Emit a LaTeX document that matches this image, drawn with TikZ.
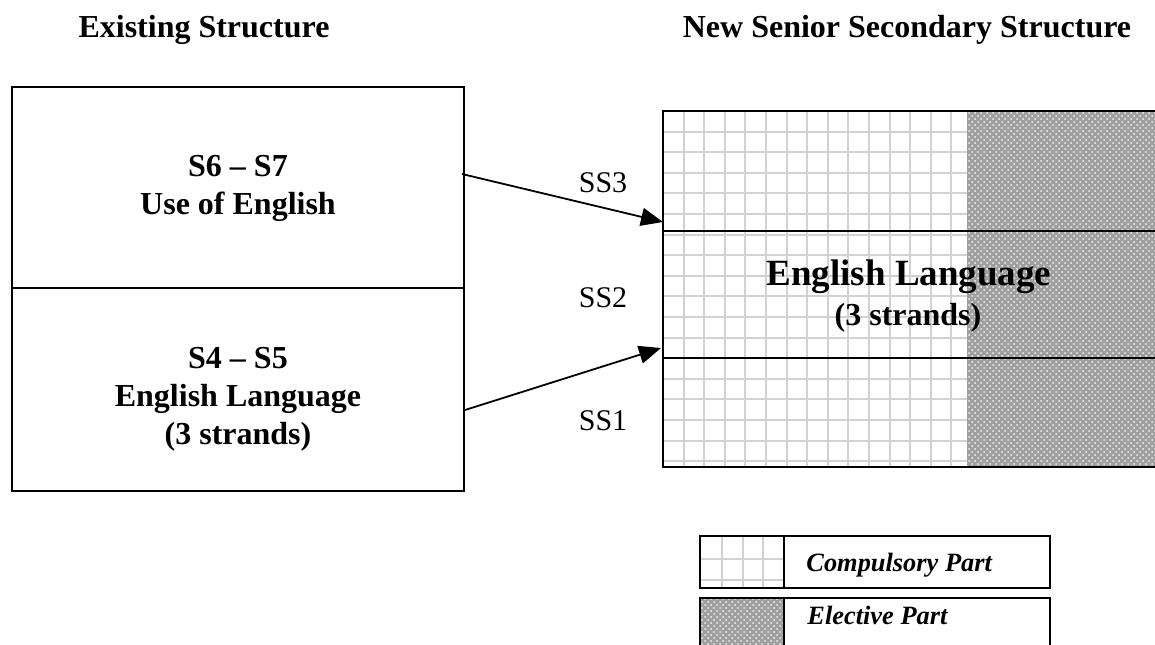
\documentclass[tikz,border=0pt]{standalone}
\usepackage{fontspec}
\setmainfont{Liberation Serif}
\usetikzlibrary{arrows.meta,patterns}

\tikzset{
  frame/.style={draw=black, line width=1pt},
  gridline/.style={draw=gray!35, line width=1pt},
  elective/.style={fill=gray!75, postaction={pattern=crosshatch dots, pattern color=white!90!gray}},
  title/.style={font=\fontsize{16}{19}\selectfont\bfseries, anchor=base},
  boxtext/.style={font=\fontsize{16}{19}\selectfont\bfseries, align=center},
  sslabel/.style={font=\fontsize{15}{18}\selectfont, anchor=base},
  legendtext/.style={font=\fontsize{13.2}{15}\selectfont\bfseries\itshape, anchor=base west, inner sep=0pt},
  link/.style={line width=0.9pt, -{Triangle[length=11pt,width=9pt]}},
}

\begin{document}
\begin{tikzpicture}[x=0.5pt,y=-0.5pt]
\useasboundingbox (0,0) rectangle (1155,644);

% Titles
\node[title] (oldtitle) at (204,37) {Existing Structure};
\node[title] (newtitle) at (907,37) {New Senior Secondary Structure};

% Existing structure
\draw[frame] (12,87) rectangle (464,491);
\draw[frame] (12,288) -- (464,288);
\node[boxtext] (upper) at (238,188) {S6 -- S7\\Use of English};
\node[boxtext] (lower) at (238,399) {S4 -- S5\\English Language\\(3 strands)};

% New structure: compulsory grid and elective part
\foreach \i in {1,...,14}
  \draw[gridline] ({663+20.6*\i},111) -- ({663+20.6*\i},467);
\foreach \j in {1,...,17}
  \draw[gridline] (663,{111+20.6*\j}) -- (967,{111+20.6*\j});
\path[elective] (967,111) rectangle (1160,467);
\draw[frame] (1160,111) -- (663,111) -- (663,467) -- (1160,467);
\draw[frame] (663,231) -- (1160,231);
\draw[frame] (663,358) -- (1160,358);
\node[font=\fontsize{18.5}{22}\selectfont\bfseries, anchor=base] (newname) at (909,285) {English Language};
\node[font=\fontsize{16}{19}\selectfont\bfseries, anchor=base] (newstrands) at (908,325) {(3 strands)};

% Year labels
\node[sslabel] (ss3) at (603,192) {SS3};
\node[sslabel] (ss2) at (603,307) {SS2};
\node[sslabel] (ss1) at (603,430) {SS1};

% Arrows
\coordinate (fromupper) at (462,174);
\coordinate (tossthree) at (663,222);
\coordinate (fromlower) at (465,410);
\coordinate (tosstwo) at (661,348);
\draw[link] (fromupper) -- (tossthree);
\draw[link] (fromlower) -- (tosstwo);

% Legend
\foreach \i in {722,743,763}
  \draw[gridline] (\i,536) -- (\i,588);
\foreach \j in {559,580}
  \draw[gridline] (700,\j) -- (784,\j);
\draw[frame] (700,536) rectangle (1050,588);
\draw[frame] (784,536) -- (784,588);
\node[legendtext] (comptext) at (806,571) {Compulsory Part};
\path[elective] (700,598) rectangle (784,650);
\draw[frame] (700,598) rectangle (1050,650);
\draw[frame] (784,598) -- (784,650);
\node[legendtext] (electext) at (807,624) {Elective Part};
\end{tikzpicture}
\end{document}
